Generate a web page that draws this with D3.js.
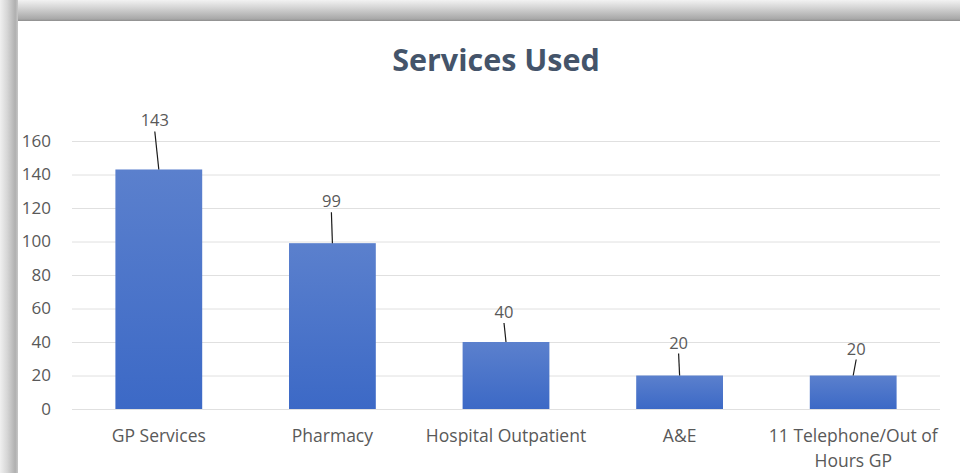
<!DOCTYPE html>
<html>
<head>
<meta charset="utf-8">
<script src="https://cdn.jsdelivr.net/npm/d3@7"></script>
<style>
  html, body { margin: 0; padding: 0; background: #ffffff; }
  svg { display: block; }
  text { font-family: "Open Sans", "Noto Sans", sans-serif; }
</style>
</head>
<body>
<svg id="chart" width="960" height="473"></svg>
<script>
// Chart data
const categories = ["GP Services", "Pharmacy", "Hospital Outpatient", "A&E", "11 Telephone/Out of Hours GP"];
const values = [143, 99, 40, 20, 20];
const yTicks = [0, 20, 40, 60, 80, 100, 120, 140, 160];
// Data-label callouts: leader length above the bar and horizontal shift of the label
const leaderLength = [38, 31, 19, 22, 16];
const leaderShift = [-4, -1, -2, -1, 3];

const svg = d3.select("#chart");
const W = 960, H = 473;

// Framed card: grey shadowed border on the top and left edges
const defs = svg.append("defs");
const topGrad = defs.append("linearGradient").attr("id", "topEdge").attr("x1", 0).attr("y1", 0).attr("x2", 0).attr("y2", 1);
topGrad.append("stop").attr("offset", "0%").attr("stop-color", "#f2f2f2");
topGrad.append("stop").attr("offset", "35%").attr("stop-color", "#d6d6d6");
topGrad.append("stop").attr("offset", "90%").attr("stop-color", "#a8a8a8");
topGrad.append("stop").attr("offset", "100%").attr("stop-color", "#8e8e8e");
const leftGrad = defs.append("linearGradient").attr("id", "leftEdge").attr("x1", 0).attr("y1", 0).attr("x2", 1).attr("y2", 0);
leftGrad.append("stop").attr("offset", "0%").attr("stop-color", "#f0f0f0");
leftGrad.append("stop").attr("offset", "40%").attr("stop-color", "#d6d6d6");
leftGrad.append("stop").attr("offset", "85%").attr("stop-color", "#b0b0b0");
leftGrad.append("stop").attr("offset", "100%").attr("stop-color", "#c8c8c8");
const barGrad = defs.append("linearGradient").attr("id", "barFill").attr("x1", 0).attr("y1", 0).attr("x2", 0).attr("y2", 1);
barGrad.append("stop").attr("offset", "0%").attr("stop-color", "#5b80cd");
barGrad.append("stop").attr("offset", "100%").attr("stop-color", "#3c69c6");

svg.append("rect").attr("x", 0).attr("y", 0).attr("width", W).attr("height", 21).attr("fill", "url(#topEdge)");
svg.append("rect").attr("x", 0).attr("y", 0).attr("width", 18).attr("height", H).attr("fill", "url(#leftEdge)");
svg.append("rect").attr("x", 18).attr("y", 21).attr("width", W - 18).attr("height", H - 21).attr("fill", "#ffffff");

// Title
svg.append("text")
  .attr("x", 496).attr("y", 71)
  .attr("text-anchor", "middle")
  .attr("font-size", 30.5).attr("font-weight", 700)
  .attr("fill", "#44546a")
  .text("Services Used");

// Scales
const plot = { left: 72, right: 940, top: 141, bottom: 409 };
const x = d3.scaleBand().domain(categories).range([plot.left, plot.right]).paddingInner(0.5).paddingOuter(0.25);
const y = d3.scaleLinear().domain([0, 160]).range([plot.bottom, plot.top]);

// Gridlines
svg.append("g")
  .selectAll("line").data(yTicks).join("line")
  .attr("x1", plot.left).attr("x2", plot.right)
  .attr("y1", d => y(d) + 0.5).attr("y2", d => y(d) + 0.5)
  .attr("stroke", "#e0e0e0").attr("stroke-width", 1);

// Y axis labels
const yAxis = svg.append("g")
  .attr("transform", `translate(51,0)`)
  .call(d3.axisLeft(y).tickValues(yTicks).tickSize(0).tickPadding(0));
yAxis.select(".domain").remove();
yAxis.selectAll("text")
  .attr("font-size", 17).attr("fill", "#595959")
  .attr("font-family", "'Open Sans', sans-serif");

// Bars
svg.append("g")
  .selectAll("rect").data(values).join("rect")
  .attr("x", (d, i) => x(categories[i]))
  .attr("y", d => y(d))
  .attr("width", x.bandwidth())
  .attr("height", d => y(0) - y(d))
  .attr("fill", "url(#barFill)");

// X axis labels (wrapped)
const xAxis = svg.append("g")
  .attr("transform", `translate(0,${plot.bottom})`)
  .call(d3.axisBottom(x).tickSize(0).tickPadding(0));
xAxis.select(".domain").remove();
xAxis.selectAll("text").each(function(d) {
  const t = d3.select(this);
  t.text(null).attr("font-size", 17.5).attr("fill", "#595959").attr("y", 0).attr("dy", 0)
    .attr("font-family", "'Open Sans', sans-serif");
  const lines = d === "11 Telephone/Out of Hours GP" ? ["11 Telephone/Out of", "Hours GP"] : [d];
  lines.forEach((ln, k) => {
    t.append("tspan").attr("x", 0).attr("y", 33 + k * 25).text(ln);
  });
});

// Data labels with leader lines
const labels = svg.append("g");
values.forEach((v, i) => {
  const cx = x(categories[i]) + x.bandwidth() / 2;
  const top = y(v);
  const lx = cx + leaderShift[i];
  const ly = top - leaderLength[i];
  labels.append("line")
    .attr("x1", cx).attr("y1", top)
    .attr("x2", lx).attr("y2", ly)
    .attr("stroke", "#1a1a1a").attr("stroke-width", 1.2);
  labels.append("text")
    .attr("x", lx).attr("y", ly - 5)
    .attr("text-anchor", "middle")
    .attr("font-size", 16.5).attr("fill", "#595959")
    .text(v);
});
</script>
</body>
</html>
